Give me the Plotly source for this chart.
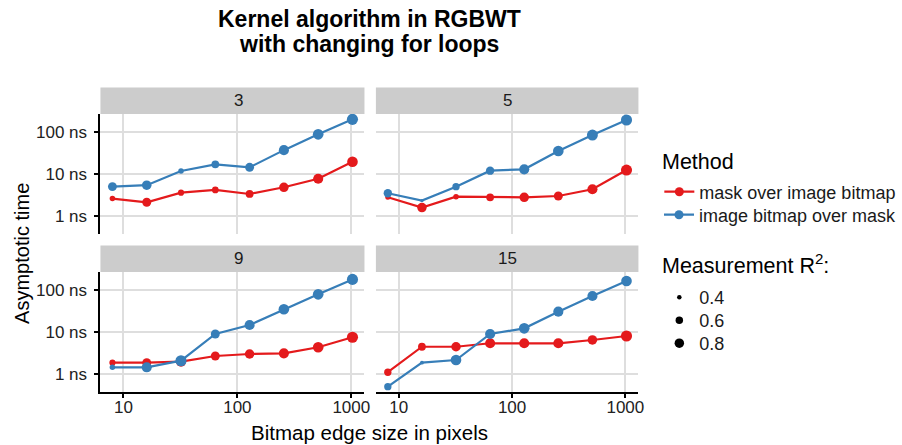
import numpy as np
import plotly.graph_objects as go

# Bitmap edge sizes (pixels) and kernel sizes per facet
edge_px = [8, 16, 32, 64, 128, 256, 512, 1024]
kernels = ["3", "5", "9", "15"]
methods = ["mask over image bitmap", "image bitmap over mask"]
colors = ["#E41A1C", "#377EB8"]

# Asymptotic time in ns, per kernel size
mask_over_image = {
    "3":  [2.60, 2.12, 3.59, 4.16, 3.34, 4.82, 7.7, 19.6],
    "5":  [2.78, 1.58, 2.88, 2.78, 2.78, 2.99, 4.32, 12.4],
    "9":  [1.86, 1.86, 1.97, 2.68, 2.99, 3.10, 4.32, 7.47],
    "15": [1.10, 4.45, 4.45, 5.38, 5.38, 5.38, 6.45, 8.03],
}
image_over_mask = {
    "3":  [5.0, 5.4, 11.8, 17.0, 14.4, 37.0, 88.0, 200.0],
    "5":  [3.47, 2.32, 4.99, 12.0, 12.9, 35.3, 84.8, 193.0],
    "9":  [1.44, 1.44, 2.07, 8.96, 14.7, 34.7, 78.9, 179.0],
    "15": [0.499, 1.86, 2.15, 8.96, 12.2, 30.5, 71.9, 164.0],
}

# Measurement R^2 of each fit
r2_mask_over_image = {
    "3":  [0.46, 0.74, 0.50, 0.54, 0.63, 0.80, 0.87, 0.93],
    "5":  [0.43, 0.80, 0.46, 0.63, 0.80, 0.74, 0.87, 0.99],
    "9":  [0.50, 0.74, 0.87, 0.74, 0.80, 0.87, 0.93, 0.99],
    "15": [0.59, 0.63, 0.80, 0.87, 0.87, 0.87, 0.80, 0.99],
}
r2_image_over_mask = {
    "3":  [0.74, 0.80, 0.46, 0.63, 0.74, 0.87, 0.93, 0.99],
    "5":  [0.69, 0.35, 0.59, 0.69, 0.87, 0.93, 0.97, 0.99],
    "9":  [0.46, 0.87, 0.99, 0.74, 0.87, 0.93, 0.93, 0.99],
    "15": [0.59, 0.37, 0.93, 0.87, 0.93, 0.87, 0.87, 0.93],
}

r2_breaks = [0.4, 0.6, 0.8]
x_ticks = [10, 100, 1000]
y_ticks = [1, 10, 100]
y_ticktext = [f"{v} ns" for v in y_ticks]

FONT = "Liberation Sans, Arial, sans-serif"
W, H = 902, 445
TXT = "#1A1A1A"


def marker_px(r2):
    """Point diameter: area grows linearly with R^2."""
    r = np.asarray(r2, dtype=float)
    return np.sqrt(np.clip(175.0 * (r - 0.284), 1.0, None))


def log_range(values, expand=0.05):
    lv = np.log10(np.asarray(values, dtype=float))
    lo, hi = lv.min(), lv.max()
    pad = (hi - lo) * expand
    return [lo - pad, hi + pad]


def px_y(y):
    return 1 - y / H


all_times = [v for d in (mask_over_image, image_over_mask) for s in d.values() for v in s]
y_range = log_range(all_times)
x_range = log_range(edge_px)

# panel geometry (paper coordinates); rows listed top to bottom
col_dom = [[101 / W, 366.5 / W], [378 / W, 642 / W]]
row_dom = [[px_y(234.1), px_y(113.9)], [px_y(392.1), px_y(271.9)]]
strip_h = 26.5 / H

fig = go.Figure()
data_sets = [(mask_over_image, r2_mask_over_image), (image_over_mask, r2_image_over_mask)]

for k, kern in enumerate(kernels):
    row, col = divmod(k, 2)
    ax = "" if k == 0 else str(k + 1)
    xa, ya = "x" + ax, "y" + ax
    # lines first, then points on top
    for m, (times, _) in enumerate(data_sets):
        fig.add_trace(go.Scatter(
            x=edge_px, y=times[kern], mode="lines", xaxis=xa, yaxis=ya,
            line=dict(color=colors[m], width=2.2), showlegend=False, hoverinfo="skip"))
    for m, (times, r2) in enumerate(data_sets):
        fig.add_trace(go.Scatter(
            x=edge_px, y=times[kern], mode="markers", xaxis=xa, yaxis=ya,
            marker=dict(color=colors[m], size=marker_px(r2[kern]), opacity=1,
                        line=dict(width=0)),
            showlegend=False, name=methods[m]))

    bottom = row == 1
    left = col == 0
    fig.layout["xaxis" + ax] = dict(
        domain=col_dom[col], anchor=ya, type="log", range=x_range,
        tickvals=x_ticks, ticktext=[str(v) for v in x_ticks],
        showticklabels=bottom, ticks="outside" if bottom else "", ticklen=4, tickwidth=1.5,
        tickcolor="black", showline=bottom, linecolor="black", linewidth=2,
        showgrid=True, gridcolor="#DEDEDE", gridwidth=2, zeroline=False,
        ticklabelstandoff=-6,
        tickfont=dict(family=FONT, size=17, color="#222222"))
    fig.layout["yaxis" + ax] = dict(
        domain=row_dom[row], anchor=xa, type="log", range=y_range,
        tickvals=y_ticks, ticktext=y_ticktext,
        showticklabels=left, ticks="outside" if left else "", ticklen=4, tickwidth=1.5,
        tickcolor="black", showline=left, linecolor="black", linewidth=2,
        showgrid=True, gridcolor="#DEDEDE", gridwidth=2, zeroline=False,
        ticklabelstandoff=4,
        tickfont=dict(family=FONT, size=17, color="#222222"))

    # facet strip
    x0, x1 = col_dom[col]
    ytop = row_dom[row][1]
    fig.add_shape(type="rect", xref="paper", yref="paper", x0=x0, x1=x1,
                  y0=ytop, y1=ytop + strip_h, fillcolor="#CCCCCC", line=dict(width=0),
                  layer="below")
    fig.add_annotation(text=kern, xref="paper", yref="paper", x=(x0 + x1) / 2,
                       y=ytop + strip_h / 2, yanchor="middle", showarrow=False,
                       font=dict(family=FONT, size=17, color=TXT))

# legend entries, one legend box per entry so each row sits where it should
legend_rows = {}
for m in range(2):
    lg = "legend" if m == 0 else f"legend{m + 1}"
    legend_rows[lg] = 192 + 23 * m
    fig.add_trace(go.Scatter(
        x=[None], y=[None], mode="lines+markers", name=methods[m],
        line=dict(color=colors[m], width=2.2), marker=dict(color=colors[m], size=9),
        legend=lg))
for i, b in enumerate(r2_breaks):
    lg = f"legend{i + 3}"
    legend_rows[lg] = 297.5 + 23 * i
    fig.add_trace(go.Scatter(
        x=[None], y=[None], mode="markers", name=f"{b}",
        marker=dict(color="black", size=float(marker_px([b])[0]), opacity=1),
        legend=lg))

cx = (col_dom[0][0] + col_dom[1][1]) / 2
title_lines = ["Kernel algorithm in RGBWT", "with changing for loops"]
for i, line in enumerate(title_lines):
    fig.add_annotation(text=f"<b>{line}</b>", xref="paper", yref="paper", x=cx,
                       y=px_y(19 + 25 * i), xanchor="center", yanchor="middle",
                       showarrow=False, font=dict(family=FONT, size=23, color="black"))
fig.add_annotation(text="Asymptotic time", xref="paper", yref="paper", x=22 / W,
                   y=px_y(253), xanchor="center", yanchor="middle", textangle=-90,
                   showarrow=False, font=dict(family=FONT, size=20, color="black"))
fig.add_annotation(text="Bitmap edge size in pixels", xref="paper", yref="paper", x=cx,
                   y=px_y(432), xanchor="center", yanchor="middle", showarrow=False,
                   font=dict(family=FONT, size=20.5, color="black"))

# legend titles
fig.add_annotation(text="Method", xref="paper", yref="paper", x=664 / W, y=px_y(162),
                   xanchor="left", yanchor="middle", showarrow=False,
                   font=dict(family=FONT, size=21.5, color="black"))
fig.add_annotation(text="Measurement R<sup>2</sup>:", xref="paper", yref="paper",
                   x=664 / W, y=px_y(264), xanchor="left", yanchor="middle",
                   showarrow=False, font=dict(family=FONT, size=21.5, color="black"))

layout_legends = {
    lg: dict(x=663 / W, y=px_y(yc), xanchor="left", yanchor="middle",
             bgcolor="rgba(0,0,0,0)", font=dict(family=FONT, size=18, color=TXT),
             itemsizing="trace")
    for lg, yc in legend_rows.items()
}

fig.update_layout(
    width=W, height=H, margin=dict(l=0, r=0, t=0, b=0),
    paper_bgcolor="white", plot_bgcolor="white",
    font=dict(family=FONT, size=18, color=TXT),
    **layout_legends,
)

fig.write_html("out.html")
